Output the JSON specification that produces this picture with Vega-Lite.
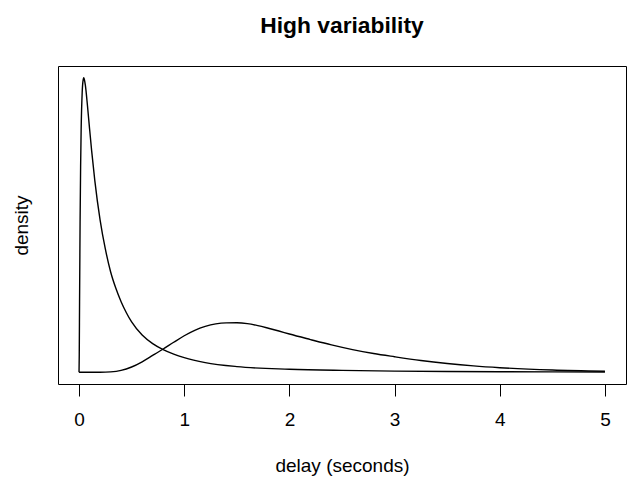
{
  "$schema": "https://vega.github.io/schema/vega-lite/v6.json",
  "width": 568,
  "height": 318,
  "autosize": "none",
  "padding": {"left": 58, "top": 66, "right": 8, "bottom": 96},
  "background": "white",
  "title": {
    "text": "High variability",
    "font": "Liberation Sans",
    "fontSize": 22.8,
    "fontWeight": "bold",
    "color": "black",
    "anchor": "middle",
    "baseline": "alphabetic",
    "offset": 10
  },
  "config": {
    "view": {"stroke": "black", "strokeWidth": 1},
    "axis": {
      "labelFont": "Liberation Sans",
      "titleFont": "Liberation Sans",
      "labelColor": "black",
      "titleColor": "black",
      "tickColor": "black",
      "grid": false
    }
  },
  "data": {
    "values": [
      {"x": 0, "density": 0, "curve": "a"},
      {"x": 0.002, "density": 0.166, "curve": "a"},
      {"x": 0.005, "density": 0.701, "curve": "a"},
      {"x": 0.01, "density": 1.498, "curve": "a"},
      {"x": 0.015, "density": 2.046, "curve": "a"},
      {"x": 0.02, "density": 2.41, "curve": "a"},
      {"x": 0.03, "density": 2.786, "curve": "a"},
      {"x": 0.04, "density": 2.914, "curve": "a"},
      {"x": 0.045, "density": 2.93, "curve": "a"},
      {"x": 0.05, "density": 2.916, "curve": "a"},
      {"x": 0.06, "density": 2.856, "curve": "a"},
      {"x": 0.08, "density": 2.654, "curve": "a"},
      {"x": 0.1, "density": 2.424, "curve": "a"},
      {"x": 0.12, "density": 2.203, "curve": "a"},
      {"x": 0.15, "density": 1.907, "curve": "a"},
      {"x": 0.2, "density": 1.517, "curve": "a"},
      {"x": 0.25, "density": 1.227, "curve": "a"},
      {"x": 0.3, "density": 1.0, "curve": "a"},
      {"x": 0.35, "density": 0.835, "curve": "a"},
      {"x": 0.4, "density": 0.702, "curve": "a"},
      {"x": 0.45, "density": 0.592, "curve": "a"},
      {"x": 0.5, "density": 0.5, "curve": "a"},
      {"x": 0.6, "density": 0.37, "curve": "a"},
      {"x": 0.7, "density": 0.285, "curve": "a"},
      {"x": 0.8, "density": 0.225, "curve": "a"},
      {"x": 0.9, "density": 0.18, "curve": "a"},
      {"x": 1.0, "density": 0.145, "curve": "a"},
      {"x": 1.2, "density": 0.096, "curve": "a"},
      {"x": 1.5, "density": 0.056, "curve": "a"},
      {"x": 2.0, "density": 0.03, "curve": "a"},
      {"x": 2.5, "density": 0.018, "curve": "a"},
      {"x": 3.0, "density": 0.011, "curve": "a"},
      {"x": 3.5, "density": 0.0075, "curve": "a"},
      {"x": 4.0, "density": 0.005, "curve": "a"},
      {"x": 4.5, "density": 0.0035, "curve": "a"},
      {"x": 5.0, "density": 0.0025, "curve": "a"},
      {"x": 0, "density": 0, "curve": "b"},
      {"x": 0.2, "density": 0.0002, "curve": "b"},
      {"x": 0.3, "density": 0.0036, "curve": "b"},
      {"x": 0.4, "density": 0.018, "curve": "b"},
      {"x": 0.5, "density": 0.052, "curve": "b"},
      {"x": 0.6, "density": 0.104, "curve": "b"},
      {"x": 0.7, "density": 0.167, "curve": "b"},
      {"x": 0.8, "density": 0.231, "curve": "b"},
      {"x": 0.9, "density": 0.298, "curve": "b"},
      {"x": 1.0, "density": 0.363, "curve": "b"},
      {"x": 1.1, "density": 0.417, "curve": "b"},
      {"x": 1.2, "density": 0.456, "curve": "b"},
      {"x": 1.3, "density": 0.481, "curve": "b"},
      {"x": 1.4, "density": 0.491, "curve": "b"},
      {"x": 1.5, "density": 0.492, "curve": "b"},
      {"x": 1.6, "density": 0.484, "curve": "b"},
      {"x": 1.7, "density": 0.464, "curve": "b"},
      {"x": 1.8, "density": 0.438, "curve": "b"},
      {"x": 1.9, "density": 0.41, "curve": "b"},
      {"x": 2.0, "density": 0.38, "curve": "b"},
      {"x": 2.2, "density": 0.325, "curve": "b"},
      {"x": 2.4, "density": 0.272, "curve": "b"},
      {"x": 2.6, "density": 0.225, "curve": "b"},
      {"x": 2.8, "density": 0.186, "curve": "b"},
      {"x": 3.0, "density": 0.154, "curve": "b"},
      {"x": 3.25, "density": 0.117, "curve": "b"},
      {"x": 3.5, "density": 0.087, "curve": "b"},
      {"x": 3.75, "density": 0.063, "curve": "b"},
      {"x": 4.0, "density": 0.045, "curve": "b"},
      {"x": 4.5, "density": 0.022, "curve": "b"},
      {"x": 5.0, "density": 0.01, "curve": "b"}
    ]
  },
  "mark": {"type": "line", "color": "black", "strokeWidth": 1.4, "interpolate": "monotone"},
  "encoding": {
    "x": {
      "field": "x",
      "type": "quantitative",
      "scale": {"domain": [-0.2, 5.2], "nice": false, "zero": false},
      "axis": {
        "title": "delay (seconds)",
        "values": [0, 1, 2, 3, 4, 5],
        "format": "d",
        "domain": false,
        "tickSize": 12,
        "tickWidth": 1,
        "labelFontSize": 19,
        "labelPadding": 14,
        "labelFlush": false,
        "titleFontSize": 19,
        "titleFontWeight": "normal",
        "titleBaseline": "alphabetic",
        "titleY": 87
      }
    },
    "y": {
      "field": "density",
      "type": "quantitative",
      "scale": {"domain": [-0.1172, 3.0472], "nice": false, "zero": false},
      "axis": {
        "title": "density",
        "labels": false,
        "ticks": false,
        "domain": false,
        "titleFontSize": 19,
        "titleFontWeight": "normal",
        "titleBaseline": "alphabetic",
        "titleX": -31
      }
    },
    "detail": {"field": "curve", "type": "nominal"}
  }
}
